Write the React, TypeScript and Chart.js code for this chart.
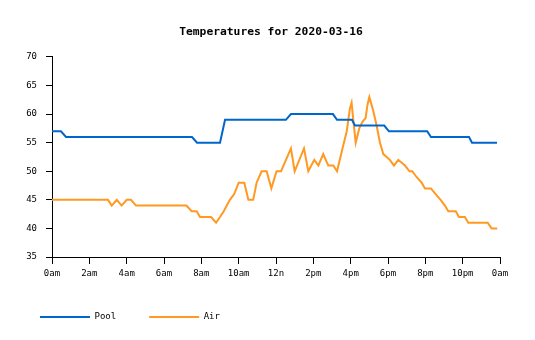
import React, { useEffect, useRef } from "react";
import { Chart, registerables } from "chart.js";

Chart.register(...registerables);

const TITLE = "Temperatures for 2020-03-16";
const X_TICK_LABELS = ["0am", "2am", "4am", "6am", "8am", "10am", "12n", "2pm", "4pm", "6pm", "8pm", "10pm", "0am"];

const POOL_HOURS = [0, 0.48, 0.75, 7.5, 7.77, 9.0, 9.27, 12.53, 12.8, 15.05, 15.27, 16.07, 16.23, 17.8, 18.05, 20.1, 20.3, 22.34, 22.5, 23.84];
const POOL_TEMPS = [57, 57, 56, 56, 55, 55, 59, 59, 60, 60, 59, 59, 58, 58, 57, 57, 56, 56, 55, 55];

const AIR_HOURS = [
  0, 3.0, 3.2, 3.47, 3.73, 4.0, 4.23, 4.5, 7.2, 7.48, 7.75, 7.93, 8.52, 8.79, 9.0, 9.2, 9.53, 9.76, 10.0, 10.3,
  10.52, 10.78, 10.96, 11.23, 11.5, 11.75, 12.03, 12.27, 12.8, 13.0, 13.5, 13.73, 14.05, 14.27, 14.53, 14.8, 15.07, 15.27,
  15.52, 15.79, 15.96, 16.05, 16.14, 16.27, 16.46, 16.64, 16.8, 16.9, 17.0, 17.2, 17.39, 17.57, 17.75, 18.1, 18.32, 18.55,
  18.91, 19.15, 19.3, 19.53, 19.8, 19.98, 20.3, 20.55, 20.82, 21.05, 21.23, 21.63, 21.8, 22.12, 22.3, 23.34, 23.55, 23.85,
];
const AIR_TEMPS = [
  45, 45, 44, 45, 44, 45, 45, 44, 44, 43, 43, 42, 42, 41, 42, 43, 45, 46, 48, 48,
  45, 45, 48, 50, 50, 47, 50, 50, 54, 50, 54, 50, 52, 51, 53, 51, 51, 50,
  53.4, 57, 61, 62, 59, 55, 57.5, 58.7, 59.3, 61.6, 63, 60.7, 58, 55, 53, 52, 51, 52,
  51, 50, 50, 49, 48, 47, 47, 46, 45, 44, 43, 43, 42, 42, 41, 41, 40, 40,
];

const POOL_COLOR = "#0066cc";
const AIR_COLOR = "#ff9922";
const FONT = "'DejaVu Sans Mono', 'Liberation Mono', monospace";

export default function App() {
  const ref = useRef<HTMLCanvasElement | null>(null);

  useEffect(() => {
    if (!ref.current) return;
    const toPts = (xs: number[], ys: number[]) => xs.map((x, i) => ({ x, y: ys[i] }));
    const chart = new Chart(ref.current, {
      type: "line",
      data: {
        datasets: [
          {
            label: "Pool",
            data: toPts(POOL_HOURS, POOL_TEMPS),
            borderColor: POOL_COLOR,
            backgroundColor: POOL_COLOR,
            borderWidth: 2,
            pointRadius: 0,
            tension: 0,
            fill: false,
          },
          {
            label: "Air",
            data: toPts(AIR_HOURS, AIR_TEMPS),
            borderColor: AIR_COLOR,
            backgroundColor: AIR_COLOR,
            borderWidth: 2,
            pointRadius: 0,
            tension: 0,
            fill: false,
          },
        ],
      },
      options: {
        animation: false,
        responsive: false,
        maintainAspectRatio: false,
        layout: { padding: { left: 7, right: 0, top: 0, bottom: 8.5 } },
        plugins: {
          title: {
            display: true,
            text: TITLE,
            color: "#000",
            font: { family: FONT, size: 11.3, weight: "bold", lineHeight: 1.2 },
            padding: { top: 25, bottom: 18.4 },
          },
          legend: {
            display: true,
            position: "bottom",
            align: "start",
            labels: {
              boxWidth: 50,
              boxHeight: 2,
              padding: 33,
              color: "#000",
              font: { family: FONT, size: 9 },
              generateLabels: (c: any) =>
                Chart.defaults.plugins.legend.labels.generateLabels(c).map((l: any) => ({
                  ...l,
                  lineWidth: 0,
                  fillStyle: l.strokeStyle,
                })),
            },
          },
          tooltip: { enabled: false },
        },
        scales: {
          x: {
            type: "linear",
            min: 0,
            max: 24,
            afterFit: (s: any) => {
              s.height = 22.5;
            },
            ticks: {
              stepSize: 2,
              autoSkip: false,
              maxRotation: 0,
              padding: 4,
              color: "#000",
              font: { family: FONT, size: 9 },
              callback: (v: any) => X_TICK_LABELS[Math.round(Number(v) / 2)] ?? "",
            },
            grid: { drawOnChartArea: false, drawTicks: true, tickLength: 7, color: "#000" },
            border: { display: true, color: "#000", width: 1 },
          },
          y: {
            type: "linear",
            min: 35,
            max: 70,
            afterFit: (s: any) => {
              s.width = 45;
            },
            ticks: {
              stepSize: 5,
              padding: 9,
              color: "#000",
              font: { family: FONT, size: 9 },
            },
            grid: { drawOnChartArea: false, drawTicks: true, tickLength: 6, color: "#000" },
            border: { display: true, color: "#000", width: 1 },
          },
          yRight: {
            type: "linear",
            position: "right",
            display: true,
            afterFit: (s: any) => {
              s.width = 35;
            },
            ticks: { display: false },
            grid: { display: false, drawTicks: false },
            border: { display: false },
          },
        },
      },
    });
    return () => chart.destroy();
  }, []);

  return (
    <div style={{ position: "fixed", left: 0, top: 0, width: 535, height: 340, background: "#fff" }}>
      <canvas ref={ref} width={535} height={340} style={{ display: "block", width: 535, height: 340 }} />
    </div>
  );
}
